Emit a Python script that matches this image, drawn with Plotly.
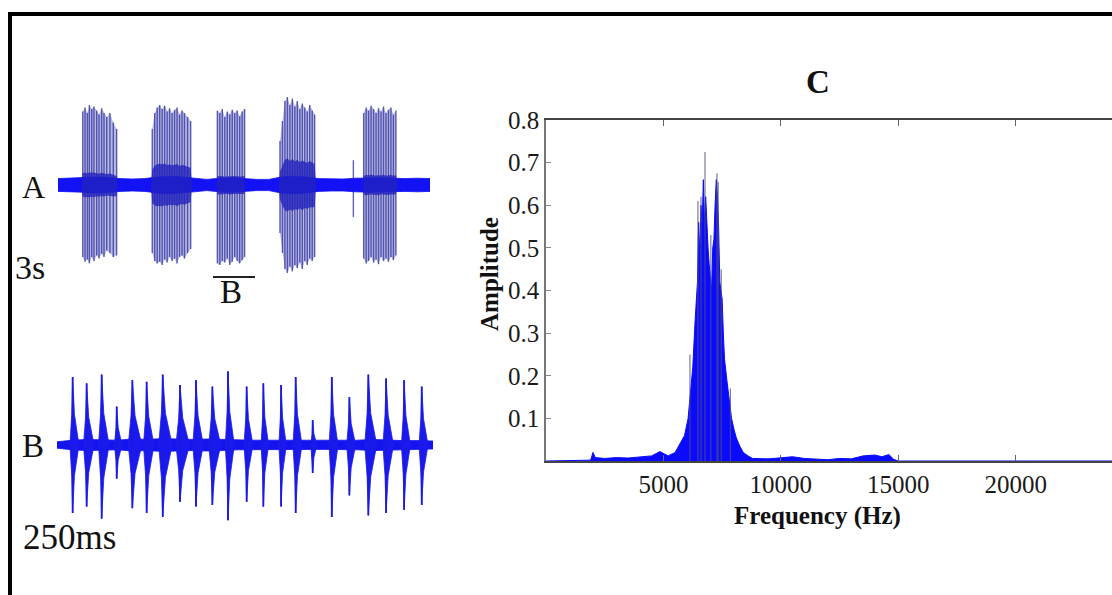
import plotly.graph_objects as go

W, H = 1112, 595

# ---------------- Panel A : 3 s recording ----------------
A_noise_t = [0.0, 0.1, 0.2, 0.3, 0.4, 0.5, 0.6, 0.7, 0.8, 0.9, 1.0, 1.1, 1.2, 1.3, 1.4, 1.5,
             1.6, 1.7, 1.8, 1.9, 2.0, 2.1, 2.2, 2.3, 2.4, 2.5, 2.6, 2.7, 2.8, 2.9, 3.0]
A_noise_amp = [0.08, 0.085, 0.09, 0.1, 0.095, 0.08, 0.075, 0.08, 0.1, 0.11, 0.1, 0.085, 0.07, 0.085,
               0.09, 0.08, 0.07, 0.07, 0.1, 0.11, 0.1, 0.08, 0.075, 0.075, 0.085, 0.09, 0.09,
               0.085, 0.08, 0.085, 0.08]

A_burst_start = [0.19, 0.75, 1.28, 1.78, 2.37, 2.46]
A_burst_end = [0.48, 1.08, 1.51, 2.08, 2.39, 2.74]
A_core_amp = [0.16, 0.27, 0.12, 0.3, 0.0, 0.13]

A_spike_t = [0.199, 0.218, 0.237, 0.253, 0.272, 0.290, 0.312, 0.331, 0.352, 0.371, 0.393, 0.419, 0.446, 0.473,
             0.76, 0.78, 0.80, 0.82, 0.84, 0.86, 0.88, 0.90, 0.92, 0.94, 0.96, 0.98, 1.00, 1.02, 1.045, 1.07,
             1.285, 1.305, 1.325, 1.345, 1.365, 1.385, 1.405, 1.425, 1.445, 1.465, 1.485, 1.505,
             1.79, 1.81, 1.83, 1.85, 1.87, 1.89, 1.91, 1.93, 1.95, 1.97, 1.99, 2.01, 2.03, 2.05, 2.07,
             2.382,
             2.465, 2.485, 2.505, 2.525, 2.545, 2.565, 2.585, 2.605, 2.625, 2.645, 2.665, 2.685, 2.705, 2.725]
A_spike_up = [0.92, 0.97, 0.9, 1.0, 0.95, 0.98, 0.93, 0.88, 0.96, 0.9, 0.85, 0.9, 0.78, 0.7,
              0.7, 0.9, 0.97, 1.0, 0.95, 0.99, 0.92, 0.96, 0.9, 0.94, 0.97, 0.88, 0.93, 0.9, 0.85, 0.8,
              0.93, 0.9, 0.95, 0.85, 0.92, 0.88, 0.94, 0.9, 0.93, 0.86, 0.92, 0.95,
              0.55, 0.8, 1.05, 1.1, 1.0, 1.08, 0.98, 1.05, 0.95, 1.02, 0.97, 0.92, 1.0, 0.93, 0.88,
              0.31,
              0.9, 0.97, 0.93, 0.99, 0.95, 0.9, 0.96, 0.92, 0.98, 0.9, 0.94, 0.97, 0.88, 0.93]
A_spike_dn = [0.9, 0.96, 0.93, 0.98, 0.9, 0.95, 0.88, 0.92, 0.86, 0.9, 0.82, 0.85, 0.9, 0.88,
              0.85, 0.95, 0.98, 0.96, 1.0, 0.93, 0.97, 0.9, 0.95, 0.92, 0.98, 0.9, 0.88, 0.92, 0.85, 0.8,
              0.98, 1.0, 0.95, 0.97, 0.92, 1.0, 0.96, 0.9, 0.95, 0.98, 0.94, 0.9,
              0.6, 0.85, 1.05, 1.1, 1.02, 1.08, 1.0, 1.04, 0.97, 1.05, 0.95, 1.0, 0.92, 0.95, 0.9,
              0.4,
              0.92, 0.98, 0.95, 0.9, 0.97, 0.93, 0.99, 0.9, 0.95, 0.92, 0.96, 0.9, 0.94, 0.88]

# ---------------- Panel B : 250 ms zoom ----------------
B_noise_t = [0, 10, 20, 30, 40, 50, 60, 70, 80, 90, 100, 110, 120, 130, 140, 150, 160, 170,
             180, 190, 200, 210, 220, 230, 240, 250]
B_noise_amp = [0.04, 0.06, 0.07, 0.065, 0.06, 0.075, 0.07, 0.08, 0.075, 0.07, 0.075, 0.07, 0.06, 0.06,
               0.06, 0.06, 0.055, 0.055, 0.055, 0.055, 0.06, 0.07, 0.06, 0.055, 0.055, 0.05]
B_pulse_t = [10.4, 19.7, 29.7, 39.7, 50.1, 59.6, 70.3, 81.8, 92.4, 103.3, 113.7, 126.1, 137.2,
             149.0, 158.7, 170.0, 182.7, 194.4, 207.0, 218.8, 230.8, 242.5]
B_pulse_up = [0.85, 0.77, 0.88, 0.48, 0.81, 0.79, 0.88, 0.75, 0.81, 0.73, 0.92, 0.73, 0.77,
              0.75, 0.85, 0.31, 0.85, 0.60, 0.88, 0.83, 0.81, 0.73]
B_pulse_dn = [0.85, 0.77, 0.92, 0.42, 0.79, 0.85, 0.90, 0.71, 0.77, 0.75, 0.94, 0.71, 0.77,
              0.77, 0.85, 0.35, 0.90, 0.63, 0.88, 0.85, 0.81, 0.75]
B_pulse_width = [6, 7, 7, 5, 9, 7, 9, 9, 7, 8, 6, 6, 5, 5, 6, 4, 6, 6, 8, 7, 6, 6]

# ---------------- Panel C : spectrum ----------------
C_freq = [0, 1900, 2000, 2100, 2500, 3000, 3500, 4000, 4500, 4850, 5200, 5500, 5700, 5900, 6050,
          6150, 6250, 6350, 6450, 6500, 6550, 6600, 6650, 6700, 6750, 6800, 6850, 6900, 6950, 7000,
          7050, 7100, 7150, 7200, 7250, 7300, 7350, 7400, 7450, 7500, 7550, 7600, 7700, 7800, 7900,
          8000, 8100, 8250, 8400, 8600, 8800, 9500, 10000, 10500, 11000, 11500, 12000, 12500, 13000,
          13500, 14000, 14300, 14600, 14800, 15000, 24100]
C_amp = [0, 0.002, 0.02, 0.008, 0.006, 0.008, 0.007, 0.01, 0.012, 0.022, 0.012, 0.02, 0.04, 0.06, 0.1,
         0.16, 0.22, 0.33, 0.42, 0.56, 0.48, 0.6, 0.55, 0.66, 0.56, 0.62, 0.55, 0.5, 0.46, 0.42,
         0.40, 0.5, 0.52, 0.6, 0.66, 0.62, 0.55, 0.42, 0.40, 0.38, 0.3, 0.24, 0.19, 0.15, 0.10,
         0.075, 0.055, 0.035, 0.02, 0.012, 0.006, 0.005, 0.007, 0.01, 0.006, 0.004, 0.003, 0.006, 0.005,
         0.012, 0.014, 0.01, 0.015, 0.004, 0.0, 0.0]
C_spike_f = [6130, 6470, 6600, 6770, 7020, 7280, 7330, 7460, 7850]
C_spike_amp = [0.25, 0.61, 0.62, 0.725, 0.53, 0.675, 0.655, 0.45, 0.17]
C_yticks = [0.1, 0.2, 0.3, 0.4, 0.5, 0.6, 0.7, 0.8]
C_xticks = [5000, 10000, 15000, 20000]

SERIF = "Liberation Serif"


def px_x(p):
    return p / W


def px_y(p):
    return 1 - p / H


fig = go.Figure()

# ---- A ----
for s, e in zip(A_burst_start, A_burst_end):
    idx = [i for i, t in enumerate(A_spike_t) if s <= t <= e]
    xs = [A_spike_t[i] for i in idx] + [A_spike_t[i] for i in reversed(idx)]
    ys = [A_spike_up[i] for i in idx] + [-A_spike_dn[i] for i in reversed(idx)]
    fig.add_trace(go.Scatter(x=xs, y=ys, fill="toself", fillcolor="rgba(125,128,205,0.55)",
                             line=dict(width=0), mode="lines", xaxis="x", yaxis="y",
                             hoverinfo="skip", showlegend=False))
sx, sy = [], []
for t, u, d in zip(A_spike_t, A_spike_up, A_spike_dn):
    sx += [t, t, None]
    sy += [u, -d, None]
fig.add_trace(go.Scatter(x=sx, y=sy, mode="lines", line=dict(color="rgba(55,58,160,0.8)", width=1.4),
                         xaxis="x", yaxis="y", showlegend=False, hoverinfo="skip"))
fig.add_trace(go.Scatter(x=A_noise_t + A_noise_t[::-1],
                         y=A_noise_amp + [-a for a in A_noise_amp[::-1]],
                         fill="toself", fillcolor="#1212f5", line=dict(width=0.8, color="#1212f5"),
                         mode="lines", xaxis="x", yaxis="y", showlegend=False, hoverinfo="skip"))
# denser core of each burst, following the spike heights of that burst
for s, e, c in zip(A_burst_start, A_burst_end, A_core_amp):
    if c <= 0:
        continue
    idx = [i for i, t in enumerate(A_spike_t) if s <= t <= e]
    ts = [A_spike_t[i] for i in idx]
    up = [c * A_spike_up[i] for i in idx]
    dn = [-c * A_spike_dn[i] for i in idx]
    fig.add_trace(go.Scatter(x=[s] + ts + [e] + ts[::-1] + [s],
                             y=[0] + up + [0] + dn[::-1] + [0],
                             fill="toself", fillcolor="rgba(35,35,190,0.8)",
                             line=dict(width=0), mode="lines", xaxis="x", yaxis="y",
                             showlegend=False, hoverinfo="skip"))

# ---- B ----
fig.add_trace(go.Scatter(x=B_noise_t + B_noise_t[::-1],
                         y=B_noise_amp + [-a for a in B_noise_amp[::-1]],
                         fill="toself", fillcolor="#1414ee", line=dict(width=0.8, color="#1414ee"),
                         mode="lines", xaxis="x2", yaxis="y2", showlegend=False, hoverinfo="skip"))
for t, u, d, w in zip(B_pulse_t, B_pulse_up, B_pulse_dn, B_pulse_width):
    xs = [t - 0.3 * w, t - 0.1 * w, t, t + 0.2 * w, t + 0.7 * w, t + 0.2 * w, t, t - 0.1 * w, t - 0.3 * w]
    ys = [0, 0.45 * u, u, 0.45 * u, 0, -0.45 * d, -d, -0.45 * d, 0]
    fig.add_trace(go.Scatter(x=xs, y=ys, fill="toself", fillcolor="#1a1aee",
                             line=dict(width=0.8, color="#1a1aee"), mode="lines",
                             xaxis="x2", yaxis="y2", showlegend=False, hoverinfo="skip"))
bx, by = [], []
for t, u, d in zip(B_pulse_t, B_pulse_up, B_pulse_dn):
    bx += [t, t, None]
    by += [u, -d, None]
fig.add_trace(go.Scatter(x=bx, y=by, mode="lines", line=dict(color="#1a1ae0", width=1.8),
                         xaxis="x2", yaxis="y2", showlegend=False, hoverinfo="skip"))

# ---- C ----
fig.add_trace(go.Scatter(x=C_freq, y=C_amp, fill="tozeroy", fillcolor="#0a0aff",
                         line=dict(color="#0a0aff", width=1), mode="lines",
                         xaxis="x3", yaxis="y3", showlegend=False, hoverinfo="skip"))
cx, cy = [], []
for f, a in zip(C_spike_f, C_spike_amp):
    cx += [f, f, None]
    cy += [0, a, None]
fig.add_trace(go.Scatter(x=cx, y=cy, mode="lines", line=dict(color="rgba(80,80,120,0.9)", width=1),
                         xaxis="x3", yaxis="y3", showlegend=False, hoverinfo="skip"))

tickfont = dict(family=SERIF, size=25, color="#1a1a1a")
hidden = dict(visible=False, automargin=False)
fig.update_layout(
    width=W, height=H, margin=dict(l=0, r=0, t=0, b=0, autoexpand=False),
    paper_bgcolor="white", plot_bgcolor="rgba(0,0,0,0)", showlegend=False,
    xaxis=dict(domain=[px_x(58), px_x(430)], range=[0, 3], **hidden),
    yaxis=dict(domain=[px_y(285), px_y(85)], range=[-1.25, 1.25], **hidden),
    xaxis2=dict(domain=[px_x(57), px_x(433)], range=[0, 250], anchor="y2", **hidden),
    yaxis2=dict(domain=[px_y(545), px_y(345)], range=[-1.25, 1.25], anchor="x2", **hidden),
    xaxis3=dict(domain=[px_x(546), 1.0], range=[0, 24100], anchor="y3", automargin=False,
                tickvals=C_xticks, ticktext=[str(v) for v in C_xticks],
                ticks="inside", ticklen=6, tickcolor="#666", mirror="ticks",
                showline=True, linecolor="#444", linewidth=1.5, showgrid=False, zeroline=False,
                tickfont=tickfont),
    yaxis3=dict(domain=[px_y(461), px_y(120)], range=[0, 0.8], anchor="x3", automargin=False,
                tickvals=C_yticks, ticktext=[f"{v:.1f}" for v in C_yticks],
                ticks="inside", ticklen=5, tickcolor="#888",
                showline=True, linecolor="#777", linewidth=1.5, showgrid=False, zeroline=False,
                tickfont=tickfont),
    yaxis4=dict(domain=[px_y(461), px_y(120)], range=[0, 0.8], anchor="x3", overlaying="y3",
                side="right", tickvals=C_yticks, ticks="inside", ticklen=5, tickcolor="#888",
                automargin=False, showticklabels=False, showline=False, showgrid=False,
                zeroline=False),
)

ann = [
    dict(text="<b>C</b>", x=818, y=82, size=33),
    dict(text="<b>Amplitude</b>", x=490, y=274, size=25, angle=-90),
    dict(text="<b>Frequency (Hz)</b>", x=817, y=516, size=25),
    dict(text="A", x=33, y=187, size=32),
    dict(text="3s", x=30, y=267, size=34),
    dict(text="B", x=231, y=292, size=33),
    dict(text="B", x=33, y=446, size=33),
    dict(text="250ms", x=69, y=537, size=35),
]
for a in ann:
    fig.add_annotation(text=a["text"], x=px_x(a["x"]), y=px_y(a["y"]), xref="paper", yref="paper",
                       showarrow=False, xanchor="center", yanchor="middle",
                       textangle=a.get("angle", 0),
                       font=dict(family=SERIF, size=a["size"], color="#111"))

# overbar above the "B" marker and the outer frame
fig.add_shape(type="line", xref="paper", yref="paper", x0=px_x(213), x1=px_x(255),
              y0=px_y(277), y1=px_y(277), line=dict(color="#222", width=2))
fig.add_shape(type="rect", xref="paper", yref="paper", x0=px_x(8), x1=px_x(12),
              y0=0, y1=px_y(12), fillcolor="black", line=dict(width=0))
fig.add_shape(type="rect", xref="paper", yref="paper", x0=px_x(8), x1=1.0,
              y0=px_y(16), y1=px_y(12), fillcolor="black", line=dict(width=0))

fig.write_html("out.html")
